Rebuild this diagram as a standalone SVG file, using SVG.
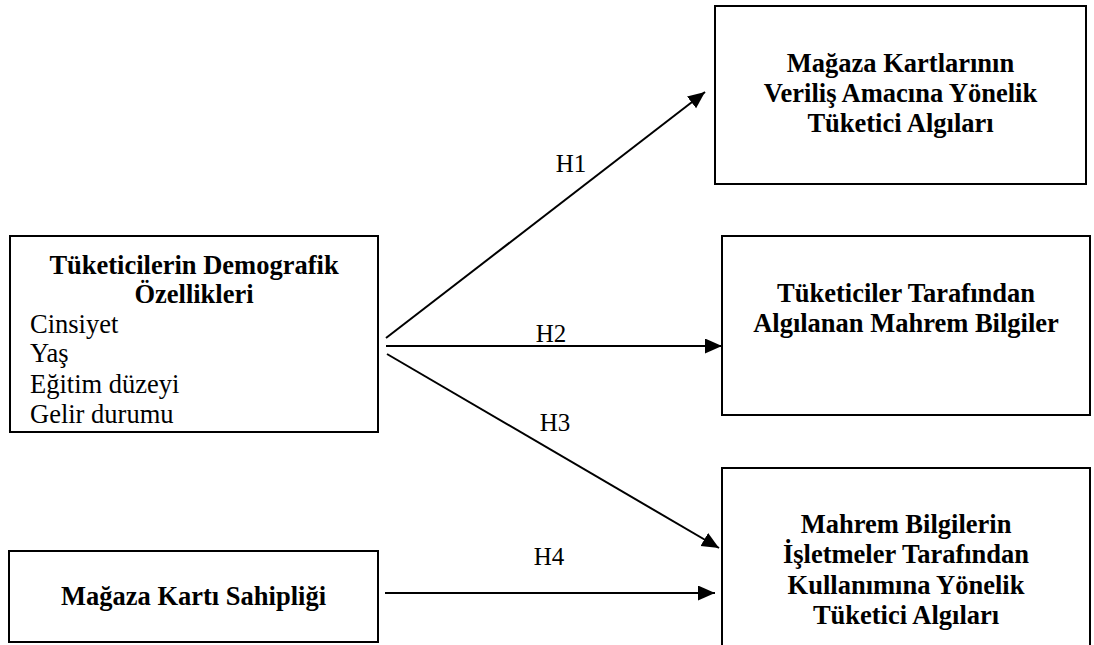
<svg xmlns="http://www.w3.org/2000/svg" width="1094" height="645" viewBox="0 0 1094 645">
<style>
.box{fill:#fff;stroke:#000;stroke-width:2}
.t{font-family:"Liberation Serif","Times New Roman",serif;font-size:26.5px;fill:#000}
.b{font-weight:bold;text-anchor:middle}
.lab{font-family:"Liberation Serif","Times New Roman",serif;font-size:25px;fill:#000;text-anchor:middle}
.c{stroke:#000;stroke-width:2;fill:none;marker-end:url(#ah)}
</style>
<defs>
<marker id="ah" markerUnits="userSpaceOnUse" markerWidth="18" markerHeight="16" refX="17" refY="7.5" orient="auto">
<path d="M0,0 L17,7.5 L0,15 z" fill="#000"/>
</marker>
</defs>
<rect width="1094" height="645" fill="#fff"/>
<g id="connectors">
<line class="c" x1="386" y1="338" x2="705" y2="92"/>
<line class="c" x1="386" y1="346" x2="722" y2="346"/>
<line class="c" x1="387" y1="354" x2="719" y2="548"/>
<line class="c" x1="385" y1="593" x2="715" y2="593"/>
<text class="lab" x="571" y="172">H1</text>
<text class="lab" x="551" y="342">H2</text>
<text class="lab" x="555" y="431">H3</text>
<text class="lab" x="549" y="565">H4</text>
</g>
<g id="demografik">
<rect class="box" x="10" y="236" width="368" height="196"/>
<text class="t b" x="194" y="274">Tüketicilerin Demografik</text>
<text class="t b" x="194" y="303">Özellikleri</text>
<text class="t" x="30" y="333">Cinsiyet</text>
<text class="t" x="30" y="362">Yaş</text>
<text class="t" x="30" y="393">Eğitim düzeyi</text>
<text class="t" x="30" y="423">Gelir durumu</text>
</g>
<g id="sahiplik">
<rect class="box" x="9" y="551" width="369" height="91"/>
<text class="t b" x="193.5" y="605">Mağaza Kartı Sahipliği</text>
</g>
<g id="verilis">
<rect class="box" x="715" y="6" width="371" height="178"/>
<text class="t b" x="900.5" y="72">Mağaza Kartlarının</text>
<text class="t b" x="900.5" y="102">Veriliş Amacına Yönelik</text>
<text class="t b" x="900.5" y="132">Tüketici Algıları</text>
</g>
<g id="mahrem">
<rect class="box" x="722" y="236" width="368" height="179"/>
<text class="t b" x="906" y="302">Tüketiciler Tarafından</text>
<text class="t b" x="906" y="332">Algılanan Mahrem Bilgiler</text>
</g>
<g id="kullanim">
<rect class="box" x="722" y="468" width="368" height="200"/>
<text class="t b" x="906" y="533">Mahrem Bilgilerin</text>
<text class="t b" x="906" y="563">İşletmeler Tarafından</text>
<text class="t b" x="906" y="594">Kullanımına Yönelik</text>
<text class="t b" x="906" y="624">Tüketici Algıları</text>
</g>
</svg>
